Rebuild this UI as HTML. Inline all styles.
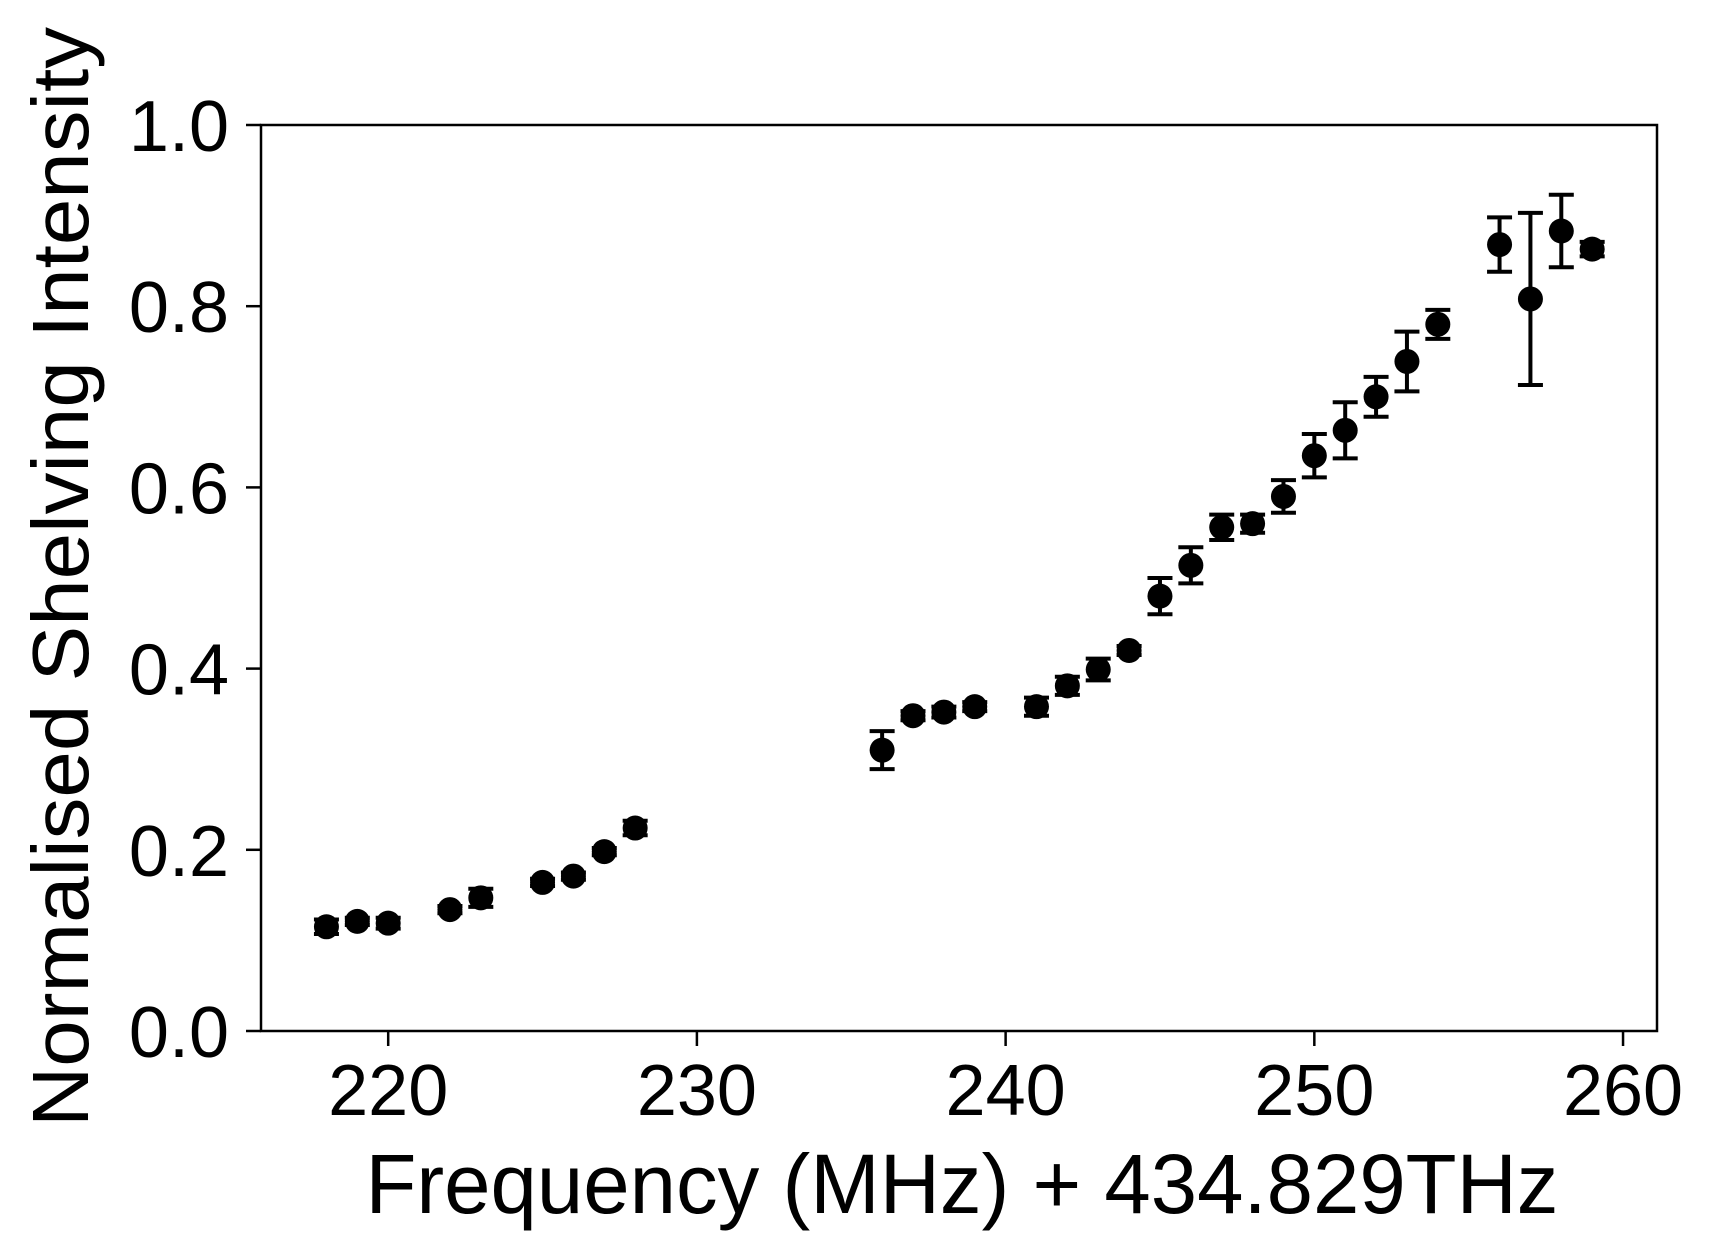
<!DOCTYPE html>
<html><head><meta charset="utf-8"><style>body{margin:0;background:#fff}svg{display:block}text{font-family:"Liberation Sans",Arial,sans-serif;fill:#000}</style></head>
<body>
<svg id="chart" width="1716" height="1258" viewBox="0 0 1716 1258" xmlns="http://www.w3.org/2000/svg">
<rect width="1716" height="1258" fill="#fff"/>
<g id="marks"></g>
<g id="axes"></g>
<text x="962" y="1213" font-size="84" text-anchor="middle" textLength="1193" lengthAdjust="spacingAndGlyphs">Frequency (MHz) + 434.829THz</text>
<text transform="translate(88,577) rotate(-90)" font-size="80" text-anchor="middle" textLength="1100" lengthAdjust="spacingAndGlyphs">Normalised Shelving Intensity</text>
</svg>
<script>
const freq=[218,219,220,222,223,225,226,227,228,236,237,238,239,241,242,243,244,245,246,247,248,249,250,251,252,253,254,256,257,258,259];
const intensity=[0.115,0.121,0.119,0.134,0.147,0.164,0.171,0.198,0.224,0.31,0.348,0.352,0.358,0.358,0.381,0.399,0.42,0.48,0.514,0.556,0.56,0.59,0.635,0.663,0.70,0.739,0.78,0.868,0.808,0.883,0.863];
const errors=[0.008,0.004,0.006,0.004,0.01,0.004,0.004,0.004,0.008,0.021,0.005,0.006,0.005,0.01,0.01,0.012,0.005,0.02,0.02,0.014,0.01,0.018,0.024,0.031,0.022,0.033,0.016,0.03,0.095,0.04,0.008];
const xTicks=[220,230,240,250,260];
const yTicks=[0.0,0.2,0.4,0.6,0.8,1.0];
const yTickLabels=["0.0","0.2","0.4","0.6","0.8","1.0"];
const L=261,R=1657,T=125,B=1031,XMIN=215.88,XMAX=261.1;
const sx=v=>L+(v-XMIN)/(XMAX-XMIN)*(R-L);
const sy=v=>B-v*(B-T);
const NS='http://www.w3.org/2000/svg';
function mk(tag,attrs,parent){const e=document.createElementNS(NS,tag);for(const k in attrs)e.setAttribute(k,attrs[k]);parent.appendChild(e);return e;}
const marks=document.getElementById('marks'),axes=document.getElementById('axes');
freq.forEach((f,i)=>{
  const g=mk('g',{},marks);
  
  
  const x=sx(f),y1=sy(intensity[i]-errors[i]),y2=sy(intensity[i]+errors[i]);
  mk('line',{x1:x,x2:x,y1:y1,y2:y2,stroke:'#000','stroke-width':4},g);
  mk('line',{x1:x-12.5,x2:x+12.5,y1:y1,y2:y1,stroke:'#000','stroke-width':4},g);
  mk('line',{x1:x-12.5,x2:x+12.5,y1:y2,y2:y2,stroke:'#000','stroke-width':4},g);
  mk('circle',{cx:x,cy:sy(intensity[i]),r:12.5,fill:'#000'},g);
});
const frame=mk('rect',{x:L,y:T,width:R-L,height:B-T,fill:'none',stroke:'#000','stroke-width':2.5},axes);


xTicks.forEach(t=>{
  const x=sx(t);
  mk('line',{x1:x,x2:x,y1:B,y2:B+15,stroke:'#000','stroke-width':2.5},axes);
  const tx=mk('text',{x:x,y:1115,'font-size':72,'text-anchor':'middle'},axes);
  
  
  tx.textContent=t;
});
yTicks.forEach((t,i)=>{
  const y=sy(t);
  mk('line',{x1:L-15,x2:L,y1:y,y2:y,stroke:'#000','stroke-width':2.5},axes);
  const tx=mk('text',{x:229,y:y+26,'font-size':72,'text-anchor':'end'},axes);
  
  
  tx.textContent=yTickLabels[i];
});
</script>
</body></html>
